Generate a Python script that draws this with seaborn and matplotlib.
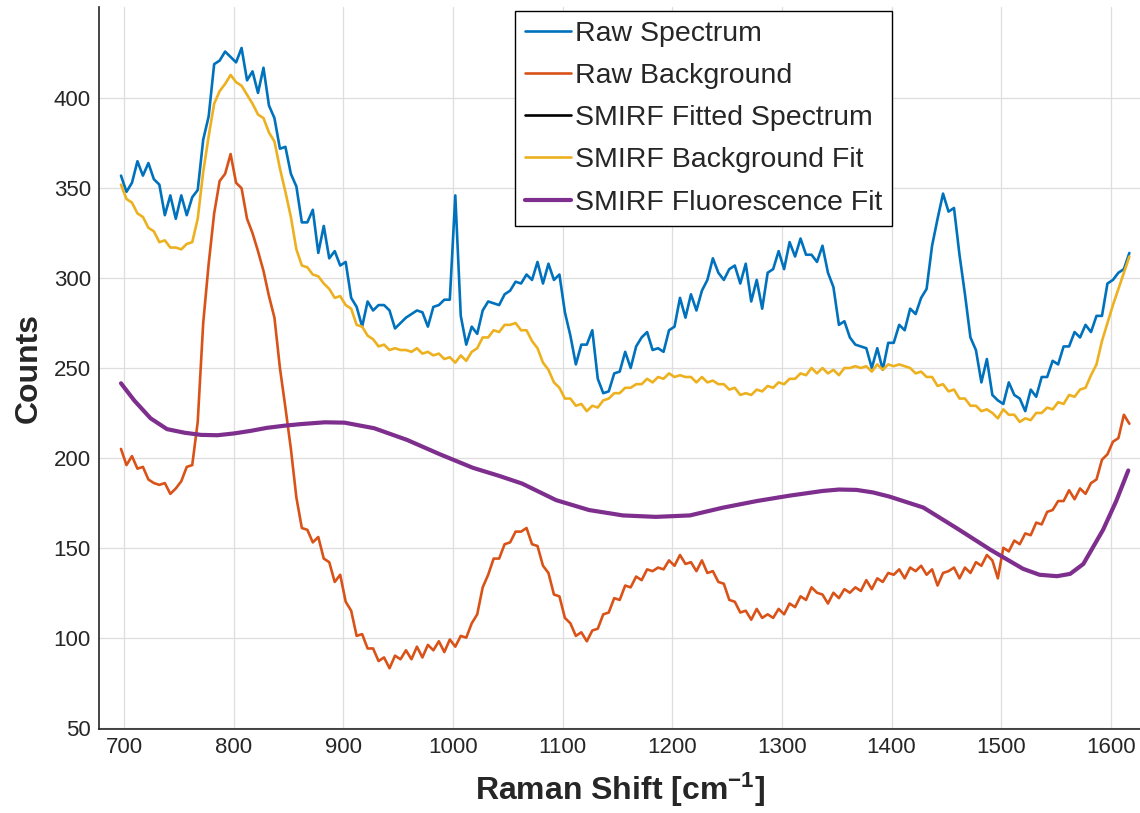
import matplotlib
matplotlib.use("Agg")
import matplotlib.pyplot as plt
import numpy as np
import pandas as pd
import seaborn as sns

# Raman shift grid of the measured spectra (one point every 5 cm-1)
shift = np.arange(697, 1618, 5)

# values, one row per 50 cm-1
raw_spectrum = [
    357, 348, 353, 365, 357, 364, 355, 352, 335, 346,
    333, 346, 335, 345, 349, 377, 390, 419, 421, 426,
    423, 420, 428, 410, 415, 403, 417, 396, 389, 372,
    373, 358, 351, 331, 331, 338, 314, 329, 311, 315,
    307, 309, 289, 284, 273, 287, 282, 285, 285, 282,
    272, 275, 278, 280, 282, 281, 273, 284, 285, 288,
    288, 346, 279, 263, 273, 269, 282, 287, 286, 285,
    291, 293, 298, 297, 302, 299, 309, 297, 308, 299,
    302, 281, 268, 252, 263, 263, 271, 244, 236, 237,
    247, 248, 259, 250, 262, 267, 270, 260, 261, 259,
    271, 273, 289, 278, 291, 282, 293, 299, 311, 303,
    299, 305, 307, 297, 308, 287, 299, 283, 303, 305,
    315, 305, 320, 312, 322, 313, 313, 309, 318, 303,
    295, 274, 276, 267, 263, 262, 261, 250, 261, 249,
    264, 264, 274, 271, 283, 280, 289, 294, 318, 333,
    347, 337, 339, 313, 291, 267, 260, 242, 255, 235,
    232, 230, 242, 235, 233, 226, 238, 234, 245, 245,
    254, 252, 262, 262, 270, 267, 274, 270, 279, 279,
    297, 299, 303, 305, 314,
]

raw_background = [
    205, 196, 201, 194, 195, 188, 186, 185, 186, 180,
    183, 187, 195, 196, 220, 275, 308, 336, 354, 358,
    369, 353, 350, 333, 325, 315, 304, 290, 278, 250,
    228, 205, 178, 161, 160, 153, 156, 144, 142, 131,
    135, 120, 115, 101, 102, 94, 94, 87, 89, 83,
    90, 88, 93, 88, 95, 89, 96, 93, 98, 92,
    99, 95, 101, 100, 108, 113, 128, 135, 144, 144,
    152, 153, 159, 159, 161, 152, 151, 140, 136, 124,
    123, 111, 108, 101, 103, 98, 104, 105, 113, 114,
    122, 121, 129, 128, 134, 132, 138, 137, 139, 138,
    143, 140, 146, 141, 142, 137, 143, 136, 137, 131,
    130, 121, 120, 114, 115, 110, 116, 111, 113, 111,
    116, 113, 119, 117, 123, 121, 128, 125, 124, 119,
    125, 122, 127, 125, 128, 126, 132, 127, 133, 131,
    136, 135, 138, 133, 139, 137, 140, 135, 138, 129,
    136, 137, 139, 133, 139, 136, 142, 140, 146, 143,
    133, 150, 148, 154, 152, 158, 157, 164, 163, 170,
    171, 176, 176, 182, 177, 183, 180, 186, 188, 199,
    202, 209, 211, 224, 219,
]

background_fit = [
    352, 344, 342, 336, 334, 328, 326, 320, 321, 317,
    317, 316, 319, 320, 333, 359, 379, 397, 404, 408,
    413, 409, 407, 402, 397, 391, 389, 381, 376, 361,
    348, 334, 316, 307, 306, 302, 301, 297, 294, 289,
    290, 285, 283, 274, 273, 268, 266, 262, 263, 260,
    261, 260, 260, 259, 261, 258, 259, 257, 258, 255,
    256, 253, 257, 254, 259, 261, 267, 267, 271, 270,
    274, 274, 275, 271, 271, 265, 261, 253, 249, 242,
    239, 233, 233, 229, 230, 226, 229, 228, 232, 233,
    236, 236, 239, 239, 241, 241, 244, 242, 245, 244,
    247, 245, 246, 245, 245, 242, 245, 242, 243, 241,
    241, 238, 239, 235, 236, 235, 238, 237, 240, 239,
    242, 241, 244, 244, 247, 246, 250, 247, 250, 247,
    249, 246, 250, 250, 251, 250, 251, 248, 252, 249,
    252, 251, 252, 251, 250, 247, 248, 245, 245, 240,
    241, 237, 238, 233, 233, 229, 229, 226, 227, 225,
    222, 227, 224, 224, 220, 222, 221, 225, 225, 228,
    227, 231, 230, 235, 234, 238, 239, 246, 252, 265,
    275, 285, 294, 303, 312,
]

# fitted spectrum only appears in the legend
fitted_spectrum = []

fluor_shift = [697, 709, 724, 739, 755, 770, 785, 800, 815, 830, 846, 861,
               883, 901, 928, 958, 988, 1018, 1042, 1063, 1094, 1124, 1155,
               1185, 1216, 1246, 1277, 1307, 1337, 1352, 1368, 1383, 1398,
               1429, 1460, 1490, 1520, 1535, 1551, 1563, 1575, 1593, 1605,
               1616]
fluor_fit = [241.5, 232, 222, 216, 214, 212.8, 212.6, 213.6, 215, 216.7,
             217.9, 218.8, 219.8, 219.6, 216.5, 210, 202, 194.5, 190, 185.7,
             176.5, 171, 168, 167.2, 168, 172.3, 176, 179, 181.6, 182.4,
             182.2, 180.8, 178.5, 172.4, 160.7, 149, 138.3, 135, 134.2,
             135.5, 141, 160, 176, 193]

spec = pd.DataFrame({"shift": shift, "raw": raw_spectrum,
                     "bg": raw_background, "bgfit": background_fit})
fluor = pd.DataFrame({"shift": fluor_shift, "fit": fluor_fit})

sns.set_theme(style="white")
plt.rcParams["font.family"] = ["Liberation Sans", "DejaVu Sans"]
plt.rcParams["mathtext.fontset"] = "custom"
plt.rcParams["mathtext.bf"] = "Liberation Sans:bold"
plt.rcParams["mathtext.default"] = "bf"

dark = "#262626"
fig = plt.figure(figsize=(11.4, 8.13), dpi=100)
ax = fig.add_axes([0.0871, 0.1033, 0.9129, 0.8881])

sns.lineplot(data=spec, x="shift", y="raw", ax=ax, color="#0072BD", lw=1.9,
             estimator=None, sort=False, label="Raw Spectrum")
sns.lineplot(data=spec, x="shift", y="bg", ax=ax, color="#D95319", lw=1.9,
             estimator=None, sort=False, label="Raw Background")
ax.plot(fitted_spectrum, fitted_spectrum, color="black", lw=1.9,
        label="SMIRF Fitted Spectrum")
sns.lineplot(data=spec, x="shift", y="bgfit", ax=ax, color="#EDB120", lw=1.9,
             estimator=None, sort=False, label="SMIRF Background Fit")
sns.lineplot(data=fluor, x="shift", y="fit", ax=ax, color="#7E2F8E", lw=3.0,
             estimator=None, sort=False, label="SMIRF Fluorescence Fit")

ax.set_xlim(677.2, 1626.7)
ax.set_ylim(49.2, 450.8)
ax.set_xticks(range(700, 1601, 100))
ax.set_yticks(range(50, 401, 50))
ax.grid(True, color="#dedede", lw=0.9)
ax.set_axisbelow(True)

for side in ["top", "right"]:
    ax.spines[side].set_visible(False)
for side in ["left", "bottom"]:
    ax.spines[side].set_color(dark)
    ax.spines[side].set_linewidth(1.2)
ax.tick_params(direction="in", length=8, width=1.0, colors=dark,
               labelsize=16, pad=6)

ax.set_xlabel("Raman Shift [cm$^{-1}$]", fontsize=23, fontweight="bold",
              color=dark, labelpad=9)
ax.set_ylabel("Counts", fontsize=23, fontweight="bold", color=dark,
              labelpad=7)

leg = ax.legend(loc="upper left", bbox_to_anchor=(515 / 1140, 1 - 10.7 / 813),
                bbox_transform=fig.transFigure, fontsize=20.5, frameon=True,
                fancybox=False, framealpha=1, edgecolor="black",
                borderaxespad=0, borderpad=0.35, labelspacing=0.57,
                handlelength=1.6, handletextpad=0.15)
leg.get_frame().set_linewidth(1.0)

fig.savefig("out.png", dpi=100)
